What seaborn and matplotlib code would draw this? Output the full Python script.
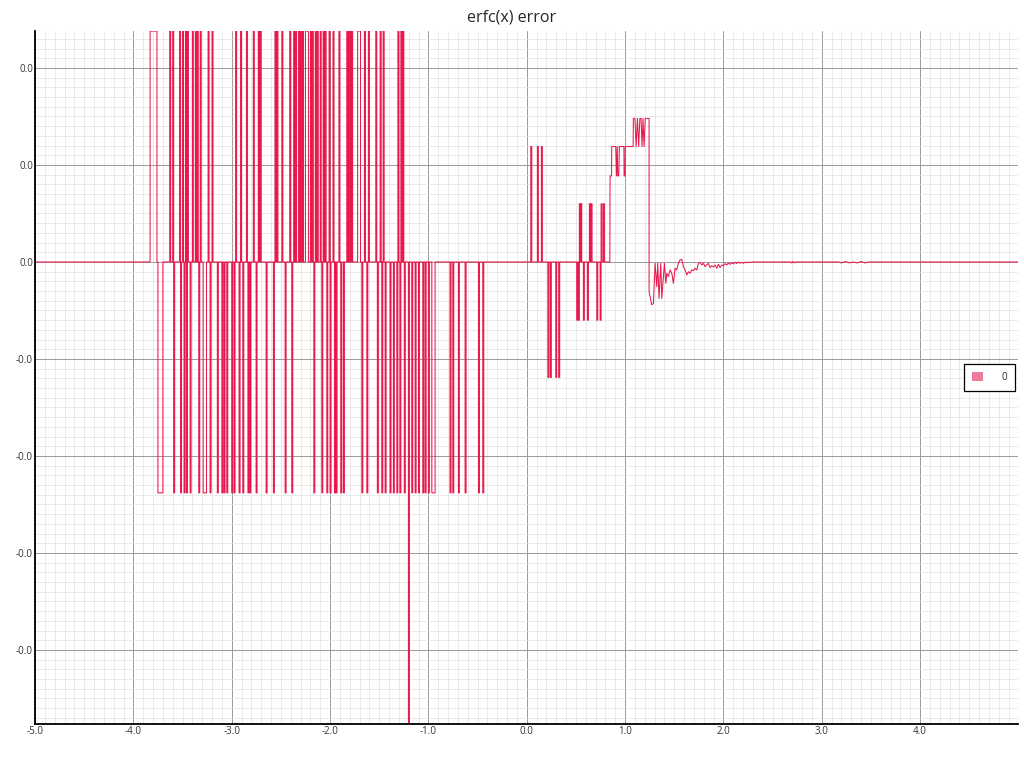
import numpy as np
import matplotlib
matplotlib.use("Agg")
import matplotlib.pyplot as plt
from matplotlib.patches import Patch
from matplotlib.ticker import AutoMinorLocator, FormatStrFormatter
import seaborn as sns

sns.set_style("white")
plt.rcParams['font.family'] = ['Open Sans', 'DejaVu Sans']

### Data (error values are in units of 1e-16)
ERR_UNIT = 1e-16
Q = 2.38  # one quantisation step of the error for x < 0

# narrow pulses for x < 0: start position and width
up_x = [-3.83, -3.63, -3.60, -3.53, -3.50, -3.47, -3.45, -3.40, -3.37, -3.35, -3.32,
        -3.24, -3.20, -2.96, -2.91, -2.85, -2.78, -2.73, -2.71, -2.56, -2.54, -2.49,
        -2.41, -2.37, -2.35, -2.32, -2.30, -2.28, -2.25, -2.20, -2.18, -2.15, -2.13,
        -2.10, -2.07, -2.05, -2.01, -1.97, -1.91, -1.83, -1.815, -1.80, -1.78, -1.72,
        -1.65, -1.61, -1.535, -1.49, -1.46, -1.31, -1.28, -1.26]
up_w = [0.07, 0.01, 0.01, 0.01, 0.01, 0.01, 0.01, 0.01, 0.01, 0.01, 0.01,
        0.01, 0.01, 0.01, 0.01, 0.01, 0.01, 0.01, 0.01, 0.01, 0.01, 0.01,
        0.01, 0.01, 0.01, 0.01, 0.01, 0.01, 0.03, 0.01, 0.01, 0.01, 0.01,
        0.01, 0.01, 0.01, 0.01, 0.01, 0.01, 0.01, 0.01, 0.01, 0.01, 0.03,
        0.01, 0.01, 0.01, 0.01, 0.01, 0.01, 0.01, 0.01]

down_x = [-3.75, -3.59, -3.52, -3.484, -3.46, -3.423, -3.335, -3.29, -3.22, -3.146,
          -3.10, -3.078, -3.05, -3.00, -2.976, -2.925, -2.887, -2.835, -2.815, -2.752,
          -2.65, -2.576, -2.457, -2.389, -2.165, -2.084, -2.033, -2.00, -1.955, -1.939,
          -1.891, -1.864, -1.677, -1.626, -1.519, -1.474, -1.44, -1.39, -1.356, -1.321,
          -1.29, -1.245, -1.169, -1.135, -1.101, -1.057, -1.033, -1.00, -0.965, -0.78,
          -0.752, -0.695, -0.627, -0.491, -0.447]
down_w = [0.05, 0.01, 0.01, 0.01, 0.01, 0.01, 0.01, 0.034, 0.01, 0.01,
          0.01, 0.01, 0.01, 0.01, 0.01, 0.01, 0.01, 0.01, 0.01, 0.01,
          0.01, 0.01, 0.01, 0.01, 0.01, 0.01, 0.01, 0.01, 0.01, 0.01,
          0.01, 0.01, 0.01, 0.01, 0.01, 0.01, 0.01, 0.01, 0.01, 0.01,
          0.01, 0.01, 0.01, 0.01, 0.01, 0.01, 0.01, 0.01, 0.033, 0.01,
          0.01, 0.01, 0.01, 0.01, 0.01]

deep_x = [-1.203]
deep_w = [0.01]

# pulses for 0 < x < 0.8
mid_x = [0.041, 0.108, 0.149, 0.215, 0.24, 0.295, 0.325,
         0.508, 0.525, 0.532, 0.549, 0.576, 0.617, 0.637, 0.654, 0.712, 0.746, 0.756, 0.78]
mid_w = [0.01, 0.01, 0.01, 0.01, 0.01, 0.01, 0.01,
         0.01, 0.01, 0.01, 0.01, 0.01, 0.01, 0.01, 0.01, 0.01, 0.01, 0.01, 0.01]
mid_y = [1.19, 1.19, 1.19, -1.19, -1.19, -1.19, -1.19,
         -0.6, -0.6, 0.6, 0.6, -0.6, -0.6, 0.6, 0.6, -0.6, -0.6, 0.6, 0.6]

# staircase 0.84 < x < 1.25
stair_x = [0.845, 0.847, 0.862, 0.864, 0.905, 0.912, 0.920, 0.925, 0.935, 0.942, 0.949,
           0.988, 0.990, 1.000, 1.002, 1.082, 1.084, 1.100, 1.112, 1.125, 1.138, 1.150,
           1.162, 1.172, 1.182, 1.193, 1.205, 1.244]
stair_y = [0.0, 0.887, 0.887, 1.19, 1.19, 0.887, 1.19, 0.887, 0.887, 1.19, 1.19,
           1.19, 0.887, 0.887, 1.19, 1.19, 1.48, 1.48, 1.19, 1.48, 1.19, 1.48,
           1.48, 1.19, 1.48, 1.19, 1.48, 1.48]

# decaying tail after x = 1.244
tail_x = [1.244, 1.271, 1.288, 1.305, 1.322, 1.332, 1.345, 1.363, 1.373, 1.390, 1.400,
          1.414, 1.424, 1.440, 1.457, 1.475, 1.491, 1.508, 1.525, 1.542, 1.559, 1.576,
          1.593, 1.610, 1.627, 1.644, 1.661, 1.678, 1.695, 1.712, 1.729, 1.746, 1.763,
          1.780, 1.796, 1.813, 1.830, 1.847, 1.864, 1.881, 1.898, 1.915, 1.932, 1.949,
          1.966, 1.983, 2.000, 2.017, 2.034, 2.050, 2.068, 2.085, 2.100, 2.119, 2.136,
          2.152, 2.169, 2.186, 2.203, 2.220, 2.237, 2.254, 2.271, 2.288, 2.680, 2.695,
          2.705, 2.720, 2.735, 3.170, 3.200, 3.240, 3.280, 3.320, 3.360, 3.400, 3.440,
          3.480, 3.500, 5.0]
tail_y = [-0.306, -0.443, -0.426, -0.014, -0.254, -0.014, -0.375, -0.014, -0.375, -0.151, -0.014,
          -0.220, -0.117, -0.151, -0.082, -0.117, -0.220, -0.065, -0.082, -0.014, 0.021, 0.027,
          -0.048, -0.082, -0.134, -0.100, -0.117, -0.082, -0.089, -0.065, -0.082, -0.014, -0.003,
          -0.031, -0.014, -0.048, -0.031, -0.014, -0.058, -0.038, -0.052, -0.031, -0.065, -0.024,
          -0.058, -0.031, -0.038, -0.017, -0.031, -0.010, -0.024, -0.007, -0.020, -0.003, -0.017,
          0.0, -0.014, -0.003, -0.014, 0.0, -0.010, 0.0, -0.007, 0.0, 0.0, -0.010,
          0.005, -0.010, 0.0, 0.0, -0.010, 0.005, -0.010, 0.0, -0.010, 0.005, -0.010,
          0.0, 0.0, 0.0]

x_ticks = [-5.0, -4.0, -3.0, -2.0, -1.0, 0.0, 1.0, 2.0, 3.0, 4.0]
y_ticks = [-4, -3, -2, -1, 0, 1, 2]

LINE_COLOR = '#e8194c'
PATCH_COLOR = '#ee7c9b'


def build_curve():
    pulses = [(s, w, Q) for s, w in zip(up_x, up_w)]
    pulses += [(s, w, -Q) for s, w in zip(down_x, down_w)]
    pulses += [(s, w, -2 * Q) for s, w in zip(deep_x, deep_w)]
    pulses += [(s, w, y) for s, w, y in zip(mid_x, mid_w, mid_y)]
    pulses.sort(key=lambda p: p[0])

    xs, ys = [-5.0], [0.0]
    prev_end = -5.0
    for s, w, lvl in pulses:
        s = max(s, prev_end)
        e = max(s + w, s + 0.004)
        xs += [s, s, e, e]
        ys += [0.0, lvl, lvl, 0.0]
        prev_end = e
    xs += stair_x + tail_x
    ys += stair_y + tail_y
    return np.array(xs), np.array(ys) * ERR_UNIT


def figure_erfc_error(filename='out.png'):
    x, err = build_curve()

    fig = plt.figure(figsize=(10.24, 7.6), dpi=100)
    ax = fig.add_axes([35 / 1024, 36 / 760, 983 / 1024, 693 / 760])

    sns.lineplot(x=x, y=err, ax=ax, sort=False, estimator=None, color=LINE_COLOR,
                 linewidth=0.75, legend=False)

    ax.set_xlim(-5.0, 4.995)
    ax.set_ylim(-4.763 * ERR_UNIT, 2.381 * ERR_UNIT)
    ax.set_xticks(x_ticks)
    ax.set_yticks(np.array(y_ticks) * ERR_UNIT)
    ax.xaxis.set_major_formatter(FormatStrFormatter('%.1f'))
    ax.yaxis.set_major_formatter(FormatStrFormatter('%.1f'))
    ax.xaxis.set_minor_locator(AutoMinorLocator(10))
    ax.yaxis.set_minor_locator(AutoMinorLocator(10))

    ax.set_axisbelow(True)
    ax.grid(which='major', color='#9a9a9a', linewidth=0.7)
    ax.grid(which='minor', color='#e2e2e2', linewidth=0.5)

    for side in ['top', 'right']:
        ax.spines[side].set_visible(False)
    for side in ['left', 'bottom']:
        ax.spines[side].set_color('black')
        ax.spines[side].set_linewidth(1.3)

    ax.tick_params(which='both', length=0, labelsize=7, labelcolor='#333333', pad=1.5)
    ax.set_xlabel('')
    ax.set_ylabel('')
    # title is centred on the figure, not on the axes
    ax.set_title('erfc(x) error', fontsize=11.5, pad=7, x=(512 - 35) / 983)

    handle = Patch(facecolor=PATCH_COLOR, edgecolor='none')
    leg = ax.legend([handle], ['0'], loc='center right', bbox_to_anchor=(0.997, 0.5),
                    frameon=True, fancybox=False, edgecolor='black', framealpha=1,
                    fontsize=7, handlelength=1.1, handleheight=1.1, borderpad=0.85,
                    handletextpad=1.9, borderaxespad=0)
    leg.get_frame().set_linewidth(0.9)

    fig.savefig(filename, dpi=100)


if __name__ == "__main__":
    figure_erfc_error()
